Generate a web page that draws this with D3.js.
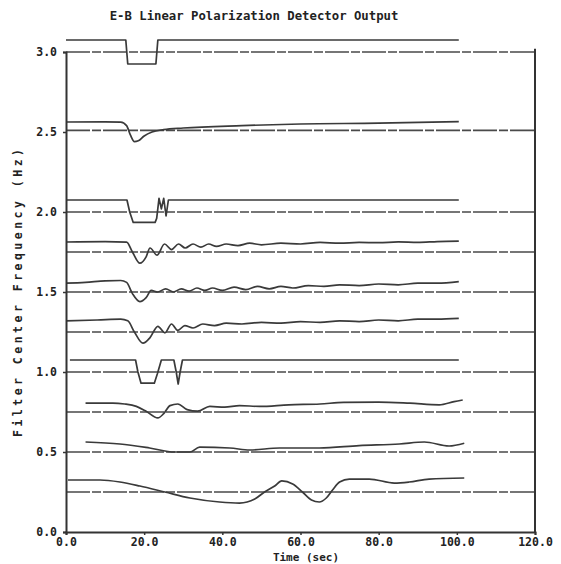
<!DOCTYPE html>
<html>
<head>
<meta charset="utf-8">
<script src="https://cdn.jsdelivr.net/npm/d3@7"></script>
<style>
  html, body { margin: 0; padding: 0; background: #fff; }
  svg { display: block; }
  text { font-family: "DejaVu Sans Mono", "Liberation Mono", monospace; font-weight: bold; fill: #222; }
</style>
</head>
<body>
<svg id="chart" width="561" height="564"></svg>
<script>
// ---- data (time in sec, value in Hz) ----
const chartTitle = "E-B Linear Polarization Detector Output";
const xLabel = "Time (sec)";
const yLabel = "Filter Center Frequency (Hz)";
const xTicks = [0, 20, 40, 60, 80, 100, 120];
const yTicks = [0, 0.5, 1.0, 1.5, 2.0, 2.5, 3.0];

// reference (zero-output) level of each filter band
const bandBaselines = [3.0, 2.51, 2.0, 1.75, 1.5, 1.25, 1.0, 0.75, 0.5, 0.25];

// detector output traces, [time, level]
const trace30 = [[0,3.075],[15.3,3.075],[15.8,2.925],[23.0,2.925],[23.5,3.075],[100.5,3.075]];
const trace25 = [[0,2.5625],[10,2.563],[14,2.562],[15.5,2.54],[16.5,2.48],[17.5,2.44],[18.5,2.445],[20,2.475],[22,2.5],[25,2.515],[30,2.525],[45,2.54],[60,2.55],[80,2.555],[100.5,2.565]];
const trace20 = [[0,2.075],[15.6,2.075],[16.3,2.0],[17.2,1.935],[22.8,1.935],[23.2,1.96],[23.8,2.085],[24.4,2.02],[25.0,2.085],[25.6,1.975],[26.2,2.075],[100.5,2.075]];
const trace175 = [[0,1.8125],[10,1.815],[15.5,1.812],[17,1.75],[18.9,1.68],[20.5,1.72],[21.5,1.775],[23.3,1.73],[25.2,1.80],[27,1.765],[28.8,1.80],[30.5,1.775],[32.5,1.80],[34.5,1.78],[36.5,1.80],[38.5,1.785],[41,1.80],[44,1.79],[47,1.805],[50,1.795],[55,1.805],[60,1.80],[65,1.81],[70,1.805],[75,1.81],[80,1.808],[85,1.813],[90,1.81],[95,1.815],[100.5,1.818]];
const trace15 = [[0,1.555],[5,1.56],[10,1.57],[14,1.572],[15.5,1.56],[17,1.49],[18.9,1.44],[20.5,1.465],[21.8,1.51],[23.5,1.50],[25.5,1.52],[27.5,1.50],[29.5,1.52],[31.5,1.505],[33.5,1.525],[35.5,1.51],[37.5,1.525],[40,1.51],[43,1.53],[46,1.515],[49,1.535],[52,1.52],[55,1.535],[58,1.525],[62,1.54],[66,1.535],[70,1.545],[75,1.54],[80,1.55],[85,1.545],[90,1.555],[95,1.555],[100.5,1.565]];
const trace125 = [[0,1.32],[8,1.325],[14,1.33],[15.8,1.32],[17.5,1.25],[19.7,1.18],[21.5,1.215],[23.5,1.285],[25.3,1.245],[27,1.30],[28.6,1.26],[30.4,1.29],[32.5,1.275],[35,1.30],[38,1.29],[41,1.305],[45,1.30],[50,1.31],[55,1.305],[60,1.315],[65,1.31],[70,1.32],[75,1.315],[80,1.325],[85,1.32],[90,1.33],[95,1.33],[100.5,1.335]];
const trace10 = [[1,1.075],[17.8,1.075],[18.4,1.0],[19.2,0.93],[22.6,0.93],[23.4,0.99],[24.4,1.075],[27.6,1.075],[28.2,1.0],[28.7,0.925],[29.2,1.0],[29.8,1.075],[100.5,1.075]];
const trace075 = [[5,0.806],[12,0.806],[15,0.80],[18,0.785],[20.5,0.755],[23.5,0.713],[25,0.74],[26.6,0.79],[28.6,0.80],[31,0.765],[33.7,0.755],[36.8,0.785],[40.6,0.78],[44.4,0.79],[49.5,0.785],[57,0.795],[65,0.80],[71,0.81],[80,0.812],[88,0.805],[95.5,0.795],[99.3,0.815],[101.5,0.825]];
const trace05 = [[5,0.5625],[13.8,0.55],[21.4,0.525],[27.8,0.5],[31.7,0.5],[34.2,0.53],[41.9,0.525],[47,0.5125],[54.6,0.525],[64.8,0.525],[75,0.54],[85.3,0.55],[91.7,0.5625],[98,0.5375],[101.9,0.555]];
const trace025 = [[0.5,0.325],[8.7,0.325],[13.8,0.3125],[18.9,0.2875],[25.3,0.25],[31.7,0.2125],[39.3,0.1875],[44.4,0.181],[48.3,0.206],[50.8,0.25],[53.4,0.2875],[55.2,0.319],[58,0.3],[60.5,0.25],[62.8,0.2],[64.8,0.1875],[66.6,0.2125],[68.2,0.2625],[70,0.3125],[72.5,0.331],[77.6,0.331],[84,0.306],[87.8,0.3125],[92.9,0.331],[101.9,0.3375]];

const traces = [trace30, trace25, trace20, trace175, trace15, trace125, trace10, trace075, trace05, trace025];
const stepTraces = new Set([0, 2, 6]); // drawn with straight segments

// ---- layout ----
const svg = d3.select("#chart");
const x = d3.scaleLinear().domain([0, 120]).range([66, 535]);
const y = d3.scaleLinear().domain([0, 3]).range([532, 52]);

// baselines
const baseG = svg.append("g");
bandBaselines.forEach(b => {
  baseG.append("line")
    .attr("x1", x(0)).attr("x2", x(120))
    .attr("y1", y(b)).attr("y2", y(b))
    .attr("stroke", "#4a4a4a").attr("stroke-width", 1.6)
    .attr("stroke-dasharray", "24,2,9,2");
});

// traces
const traceG = svg.append("g");
traces.forEach((tr, i) => {
  const line = d3.line()
    .x(d => x(d[0])).y(d => y(d[1]))
    .curve(stepTraces.has(i) ? d3.curveLinear : d3.curveMonotoneX);
  traceG.append("path")
    .attr("d", line(tr))
    .attr("fill", "none")
    .attr("stroke", "#3a3a3a")
    .attr("stroke-width", 1.7)
    .attr("stroke-linejoin", "round");
});

// axes
const xAxis = d3.axisBottom(x).tickValues(xTicks).tickFormat(d3.format(".1f")).tickSize(3).tickPadding(3);
const yAxis = d3.axisLeft(y).tickValues(yTicks).tickFormat(d3.format(".1f")).tickSize(3).tickPadding(6);

const gx = svg.append("g").attr("transform", `translate(0,${y(0)})`).call(xAxis);
const gy = svg.append("g").attr("transform", `translate(${x(0)},0)`).call(yAxis);
[gx, gy].forEach(g => {
  g.select(".domain").attr("stroke", "#333").attr("stroke-width", 2);
  g.selectAll(".tick line").attr("stroke", "#333").attr("stroke-width", 1.5);
  g.selectAll(".tick text").attr("font-size", 11.5).attr("font-weight", "bold")
    .attr("font-family", "'DejaVu Sans Mono', monospace").attr("fill", "#222");
});
gx.selectAll(".tick text").attr("dy", "0.71em");

// right frame edge
svg.append("line")
  .attr("x1", x(120)).attr("x2", x(120))
  .attr("y1", y(3.02)).attr("y2", y(0))
  .attr("stroke", "#333").attr("stroke-width", 2);

// title and axis labels
svg.append("text")
  .attr("x", 254).attr("y", 20)
  .attr("text-anchor", "middle").attr("font-size", 12.3)
  .text(chartTitle);

svg.append("text")
  .attr("x", 306).attr("y", 561)
  .attr("text-anchor", "middle").attr("font-size", 11)
  .text(xLabel);

svg.append("text")
  .attr("transform", "translate(22,293) rotate(-90)")
  .attr("text-anchor", "middle").attr("font-size", 11.5)
  .attr("textLength", 288).attr("lengthAdjust", "spacing")
  .text(yLabel);
</script>
</body>
</html>
